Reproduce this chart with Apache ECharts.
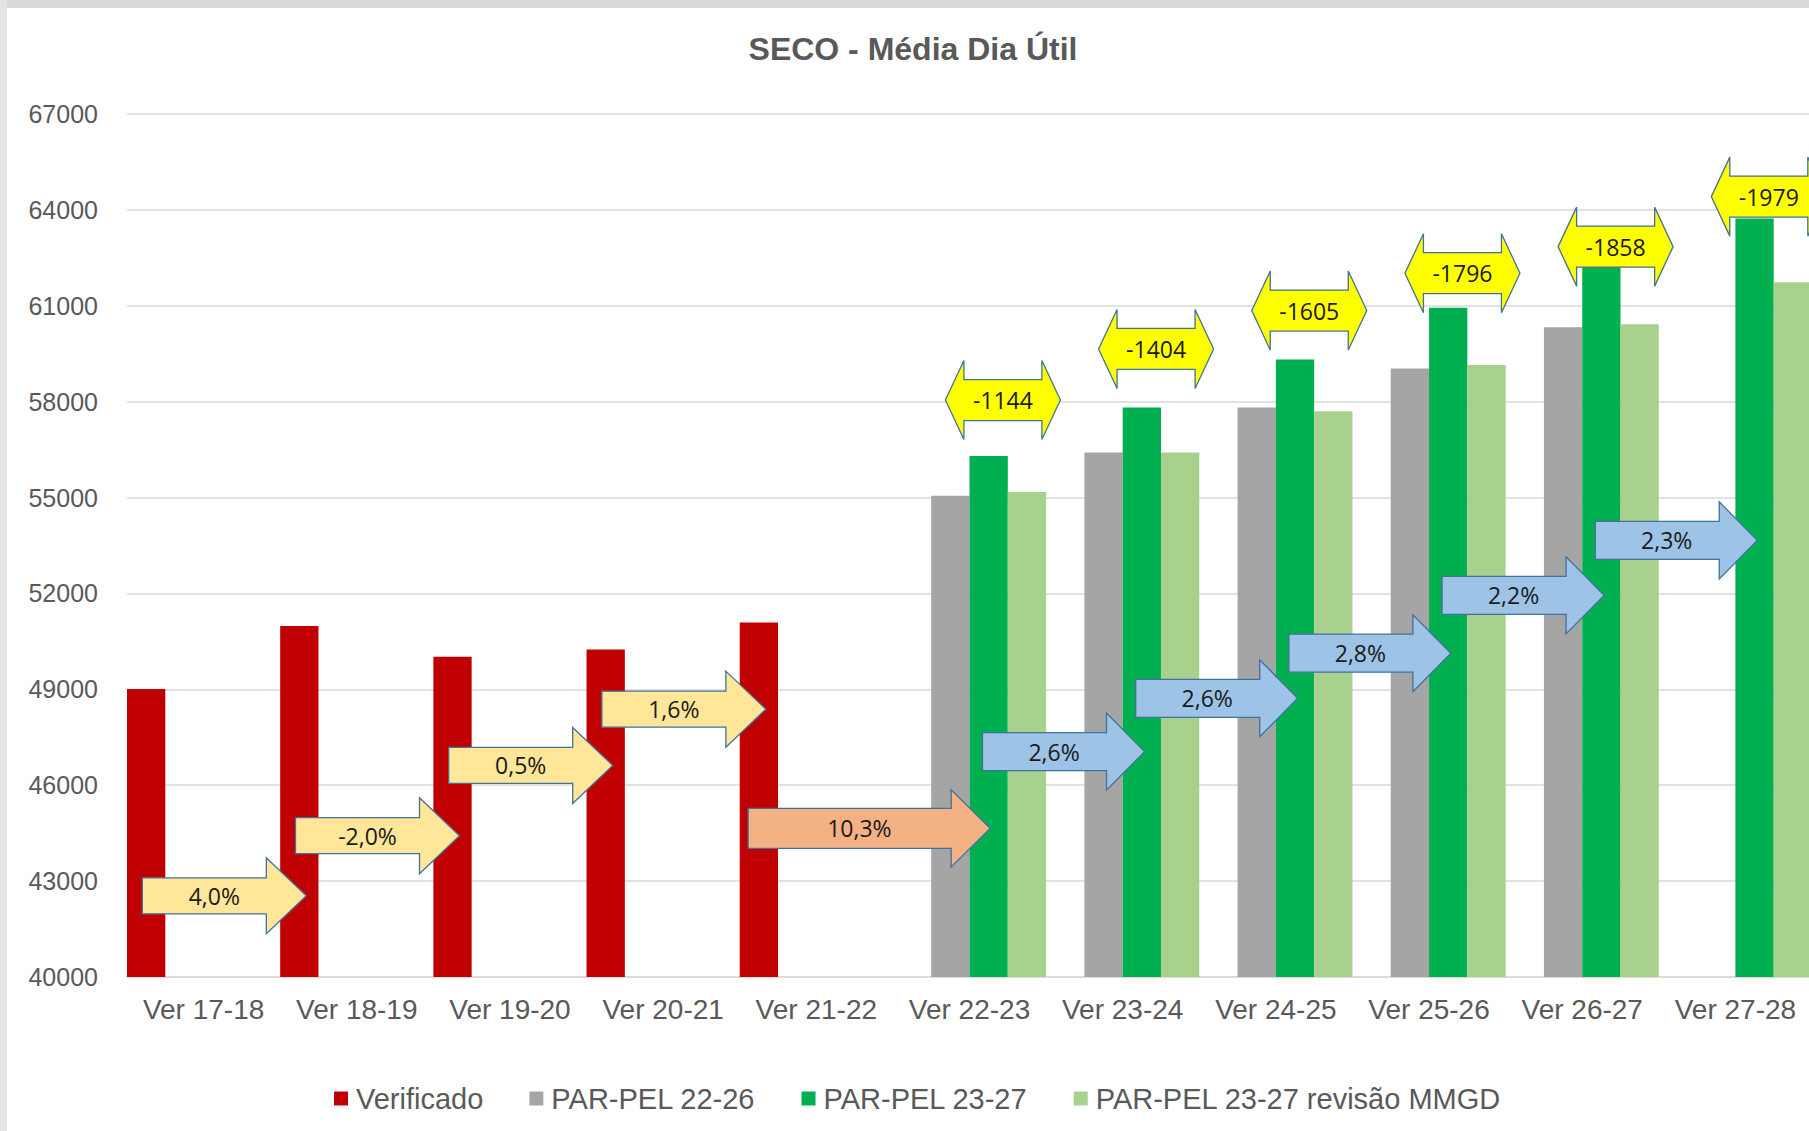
<!DOCTYPE html>
<html>
<head>
<meta charset="utf-8">
<title>SECO - Média Dia Útil</title>
<script src="https://cdn.jsdelivr.net/npm/echarts@6/dist/echarts.min.js"></script>
<style>
    html, body { margin: 0; padding: 0; background: #fff; overflow: hidden; }
    #chart { width: 1809px; height: 1131px; }
</style>
</head>
<body>
<div id="chart"></div>
<script>
// dados
var categorias = ['Ver 17-18', 'Ver 18-19', 'Ver 19-20', 'Ver 20-21', 'Ver 21-22', 'Ver 22-23',
    'Ver 23-24', 'Ver 24-25', 'Ver 25-26', 'Ver 26-27', 'Ver 27-28'];
var verificado = [49010, 50980, 50020, 50250, 51090, null, null, null, null, null, null];
var parPel2226 = [null, null, null, null, null, 55060, 56410, 57820, 59040, 60330, null];
var parPel2327 = [null, null, null, null, null, 56300, 57820, 59320, 60940, 62250, 63730];
var revisaoMMGD = [null, null, null, null, null, 55170, 56410, 57700, 59150, 60420, 61740];

// setas de crescimento (texto, categoria de saída, altura no eixo)
var crescimento = ['4,0%', '-2,0%', '0,5%', '1,6%', '10,3%', '2,6%', '2,6%', '2,8%', '2,2%', '2,3%'];
var crescCat = [0, 1, 2, 3, 4, 5, 6, 7, 8, 9];
var crescY = [42540, 44420, 46620, 48380, 44650, 47050, 48720, 50130, 51940, 53660];

// diferença PAR-PEL 23-27 x revisão MMGD
var diferencas = ['-1144', '-1404', '-1605', '-1796', '-1858', '-1979'];
var difCat = [5, 6, 7, 8, 9, 10];
var difY = [58050, 59650, 60850, 62020, 62850, 64415];

var eixoMin = 40000, eixoMax = 67000, eixoPasso = 3000;

var fonte = '"Liberation Sans", Arial, sans-serif';
var fonteSeta = '"Open Sans", "Liberation Sans", sans-serif';
var cinzaTexto = '#595959';

var setaAmarela = {cor: '#FFE699', dx: -0.40, corpo: 124, ponta: 40, hCorpo: 36, hPonta: 76};
var setaLaranja = {cor: '#F4B183', dx: -0.445, corpo: 203, ponta: 39, hCorpo: 40, hPonta: 77};
var setaAzul = {cor: '#9DC3E6', dx: 0.085, corpo: 124, ponta: 38, hCorpo: 38, hPonta: 77};

function pontosSeta(x0, cy, s) {
    var b = s.hCorpo / 2, h = s.hPonta / 2;
    return [[x0, cy - b], [x0 + s.corpo, cy - b], [x0 + s.corpo, cy - h], [x0 + s.corpo + s.ponta, cy],
        [x0 + s.corpo, cy + h], [x0 + s.corpo, cy + b], [x0, cy + b]];
}

function pontosSetaDupla(cx, cy) {
    var w = 115 / 2, p = 18.5, b = 20.5, h = 39.5;
    return [[cx - w, cy], [cx - w + p, cy - h], [cx - w + p, cy - b], [cx + w - p, cy - b],
        [cx + w - p, cy - h], [cx + w, cy], [cx + w - p, cy + h], [cx + w - p, cy + b],
        [cx - w + p, cy + b], [cx - w + p, cy + h]];
}

var myChart = echarts.init(document.getElementById('chart'), null, {renderer: 'svg'});

var option = {
    backgroundColor: '#ffffff',
    animation: false,
    graphic: [
        {type: 'rect', left: 0, top: 0, shape: {width: 1809, height: 8}, style: {fill: '#d9d9d9'}, z: 100},
        {type: 'rect', left: 0, top: 0, shape: {width: 7, height: 1131}, style: {fill: '#e4e4e4'}, z: 100},
        {
            type: 'text', x: 913, y: 49,
            style: {
                text: 'SECO - Média Dia Útil', fill: cinzaTexto, align: 'center', verticalAlign: 'middle',
                font: 'bold 32px "Liberation Sans", Arial, sans-serif'
            }
        }
    ],
    legend: {
        data: ['Verificado', 'PAR-PEL 22-26', 'PAR-PEL 23-27', 'PAR-PEL 23-27 revisão MMGD'],
        left: 329,
        top: 1079,
        itemWidth: 14,
        itemHeight: 14,
        itemGap: 46,
        icon: 'rect',
        textStyle: {color: cinzaTexto, fontSize: 29, fontFamily: fonte, padding: [0, 0, 0, 3]}
    },
    grid: {left: 127, top: 114, width: 1685, height: 863, containLabel: false, outerBoundsMode: 'none'},
    xAxis: {
        type: 'category',
        data: categorias,
        axisLine: {lineStyle: {color: '#d9d9d9', width: 1.5}},
        axisTick: {show: false},
        axisLabel: {color: cinzaTexto, fontSize: 28, fontFamily: fonte, margin: 18, interval: 0}
    },
    yAxis: {
        type: 'value',
        min: eixoMin,
        max: eixoMax,
        interval: eixoPasso,
        axisLine: {show: false},
        axisTick: {show: false},
        splitLine: {lineStyle: {color: '#d9d9d9', width: 1.5}},
        axisLabel: {
            color: cinzaTexto, fontSize: 25, fontFamily: fonte, margin: 29,
            formatter: function (v) { return String(v); }
        }
    },
    series: [
        {name: 'Verificado', type: 'bar', data: verificado, itemStyle: {color: '#C00000'}, barGap: '0%', barCategoryGap: '0%'},
        {name: 'PAR-PEL 22-26', type: 'bar', data: parPel2226, itemStyle: {color: '#A5A5A5'}, barGap: '0%', barCategoryGap: '0%'},
        {name: 'PAR-PEL 23-27', type: 'bar', data: parPel2327, itemStyle: {color: '#00B050'}, barGap: '0%', barCategoryGap: '0%'},
        {name: 'PAR-PEL 23-27 revisão MMGD', type: 'bar', data: revisaoMMGD, itemStyle: {color: '#A9D18E'}, barGap: '0%', barCategoryGap: '0%'},
        {
            name: 'crescimento',
            type: 'custom',
            z: 5,
            clip: false,
            data: crescCat.map(function (c, i) { return [c, crescY[i]]; }),
            renderItem: function (params, api) {
                var i = params.dataIndex;
                var p = api.coord([api.value(0), api.value(1)]);
                var bw = api.size([1, 0])[0];
                var s = i < 4 ? setaAmarela : (i == 4 ? setaLaranja : setaAzul);
                var x0 = p[0] + s.dx * bw;
                return {
                    type: 'group',
                    children: [
                        {
                            type: 'polygon',
                            shape: {points: pontosSeta(x0, p[1], s)},
                            style: {fill: s.cor, stroke: '#41719C', lineWidth: 1.3}
                        },
                        {
                            type: 'text',
                            x: x0 + (s.corpo + s.ponta / 2) / 2,
                            y: p[1],
                            style: {
                                text: crescimento[i], fill: '#1a1a1a', align: 'center', verticalAlign: 'middle',
                                fontSize: 23, fontFamily: fonteSeta
                            }
                        }
                    ]
                };
            }
        },
        {
            name: 'diferenca',
            type: 'custom',
            z: 5,
            clip: false,
            data: difCat.map(function (c, i) { return [c, difY[i]]; }),
            renderItem: function (params, api) {
                var i = params.dataIndex;
                var p = api.coord([api.value(0), api.value(1)]);
                var bw = api.size([1, 0])[0];
                var cx = p[0] + 0.218 * bw;
                return {
                    type: 'group',
                    children: [
                        {
                            type: 'polygon',
                            shape: {points: pontosSetaDupla(cx, p[1])},
                            style: {fill: '#FFFF00', stroke: '#41719C', lineWidth: 1.3}
                        },
                        {
                            type: 'text',
                            x: cx,
                            y: p[1],
                            style: {
                                text: diferencas[i], fill: '#1a1a1a', align: 'center', verticalAlign: 'middle',
                                fontSize: 23, fontFamily: fonteSeta
                            }
                        }
                    ]
                };
            }
        }
    ]
};

myChart.setOption(option);
</script>
</body>
</html>
